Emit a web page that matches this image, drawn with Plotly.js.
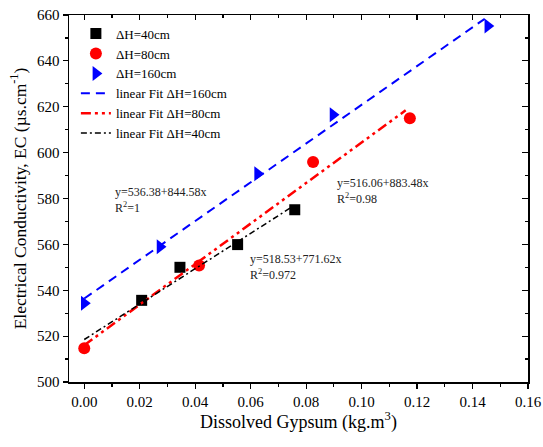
<!DOCTYPE html>
<html>
<head>
<meta charset="utf-8">
<script src="https://cdn.plot.ly/plotly-3.0.1.min.js"></script>
<style>html,body{margin:0;padding:0;background:#fff;}#chart{width:543px;height:447px;}</style>
</head>
<body>
<div id="chart"></div>
<script>
// Measured data
const x40 = [0.0207, 0.0345, 0.0553, 0.0759];
const y40 = [535.6, 550.0, 559.9, 575.1];
const x80 = [0.0, 0.0414, 0.0825, 0.1174];
const y80 = [514.7, 550.8, 595.9, 615.0];
const x160 = [0.0, 0.0273, 0.0625, 0.0897, 0.1455];
const y160 = [534.3, 559.0, 590.8, 616.5, 655.2];

// Linear fit coefficients (intercept, slope) and fitted x spans
const fit160 = [536.38, 844.58];
const fit80 = [516.06, 883.48];
const fit40 = [518.53, 771.62];
const fitX160 = [0.0, 0.1444];
const fitX80 = [0.0, 0.1159];
const fitX40 = [0.0, 0.0759];

const names = ['ΔH=40cm', 'ΔH=80cm', 'ΔH=160cm', 'linear Fit ΔH=160cm', 'linear Fit ΔH=80cm', 'linear Fit ΔH=40cm'];
const eqTexts = ['y=536.38+844.58x<br>R<sup>2</sup>=1', 'y=518.53+771.62x<br>R<sup>2</sup>=0.972', 'y=516.06+883.48x<br>R<sup>2</sup>=0.98'];

const line = (c, xs) => xs.map(v => c[0] + c[1] * v);
const F = 'Liberation Serif, Times New Roman, serif';

const traces = [
  {x: x40, y: y40, mode: 'markers', name: names[0], marker: {symbol: 'square', size: 11, color: '#000'}},
  {x: x80, y: y80, mode: 'markers', name: names[1], marker: {symbol: 'circle', size: 12, color: '#ff0000'}},
  {x: x160, y: y160, mode: 'markers', name: names[2], marker: {symbol: 'triangle-right', size: 13, color: '#0000ff'}},
  {x: fitX160, y: line(fit160, fitX160), mode: 'lines', name: names[3], line: {color: '#0000ff', width: 2, dash: '9px,6px'}},
  {x: fitX80, y: line(fit80, fitX80), mode: 'lines', name: names[4], line: {color: '#ff0000', width: 2.5, dash: '10px,4px,3px,4px,3px,4px'}},
  {x: fitX40, y: line(fit40, fitX40), mode: 'lines', name: names[5], line: {color: '#000', width: 1.5, dash: '6px,3px,2px,3px'}},
  {x: [], y: [], xaxis: 'x2', yaxis: 'y2', showlegend: false, hoverinfo: 'skip', mode: 'markers'}
];

const xr = [-0.0055, 0.16];
const yr = [500, 660];

const layout = {
  width: 543, height: 447,
  margin: {l: 69, r: 15, t: 15, b: 65},
  paper_bgcolor: '#fff', plot_bgcolor: '#fff',
  font: {family: F, color: '#000', size: 14},
  showlegend: true,
  legend: {x: 0.015, y: 0.99, xanchor: 'left', yanchor: 'top', bgcolor: 'rgba(0,0,0,0)', font: {family: F, size: 13, color: '#000'}, tracegroupgap: 0},
  xaxis: {
    range: xr, dtick: 0.02, tick0: 0, tickformat: '.2f',
    ticks: 'outside', ticklen: 5, tickwidth: 1.2, tickcolor: '#000',
    minor: {dtick: 0.01, ticks: 'outside', ticklen: 3, tickwidth: 1.2, tickcolor: '#000'},
    showline: true, linewidth: 1.5, linecolor: '#000', showgrid: false, zeroline: false,
    tickfont: {family: F, size: 15, color: '#000'},
    title: {text: 'Dissolved Gypsum (kg.m<sup>3</sup>)', font: {family: F, size: 18, color: '#000'}, standoff: 0}
  },
  yaxis: {
    range: yr, dtick: 20, tick0: 500,
    ticks: 'outside', ticklen: 5, tickwidth: 1.2, tickcolor: '#000',
    minor: {dtick: 10, ticks: 'outside', ticklen: 3, tickwidth: 1.2, tickcolor: '#000'},
    showline: true, linewidth: 1.5, linecolor: '#000', showgrid: false, zeroline: false,
    tickfont: {family: F, size: 15, color: '#000'},
    title: {text: 'Electrical Conductivity, EC (µs.cm<sup>-1</sup>)', font: {family: F, size: 17.5, color: '#000'}, standoff: 6}
  },
  xaxis2: {
    overlaying: 'x', side: 'top', anchor: 'y2', range: xr, dtick: 0.02, tick0: 0,
    ticks: 'inside', ticklen: 5, tickwidth: 1.2, tickcolor: '#000',
    minor: {dtick: 0.01, ticks: 'inside', ticklen: 3, tickwidth: 1.2, tickcolor: '#000'},
    showline: true, linewidth: 1.5, linecolor: '#000', showgrid: false, zeroline: false, showticklabels: false
  },
  yaxis2: {
    overlaying: 'y', side: 'right', anchor: 'x2', range: yr, dtick: 20, tick0: 500,
    ticks: 'inside', ticklen: 6, tickwidth: 1.2, tickcolor: '#000',
    minor: {dtick: 10, ticks: 'inside', ticklen: 3, tickwidth: 1.2, tickcolor: '#000'},
    showline: true, linewidth: 1.5, linecolor: '#000', showgrid: false, zeroline: false, showticklabels: false
  },
  annotations: [
    {text: eqTexts[0], x: 0.0105, y: 579.5, xref: 'x', yref: 'y', xanchor: 'left', yanchor: 'middle', align: 'left', showarrow: false, font: {family: F, size: 12, color: '#222'}},
    {text: eqTexts[1], x: 0.059, y: 550, xref: 'x', yref: 'y', xanchor: 'left', yanchor: 'middle', align: 'left', showarrow: false, font: {family: F, size: 12, color: '#222'}},
    {text: eqTexts[2], x: 0.0903, y: 583.4, xref: 'x', yref: 'y', xanchor: 'left', yanchor: 'middle', align: 'left', showarrow: false, font: {family: F, size: 12, color: '#222'}}
  ]
};

Plotly.newPlot('chart', traces, layout, {displayModeBar: false, staticPlot: true});
</script>
</body>
</html>
